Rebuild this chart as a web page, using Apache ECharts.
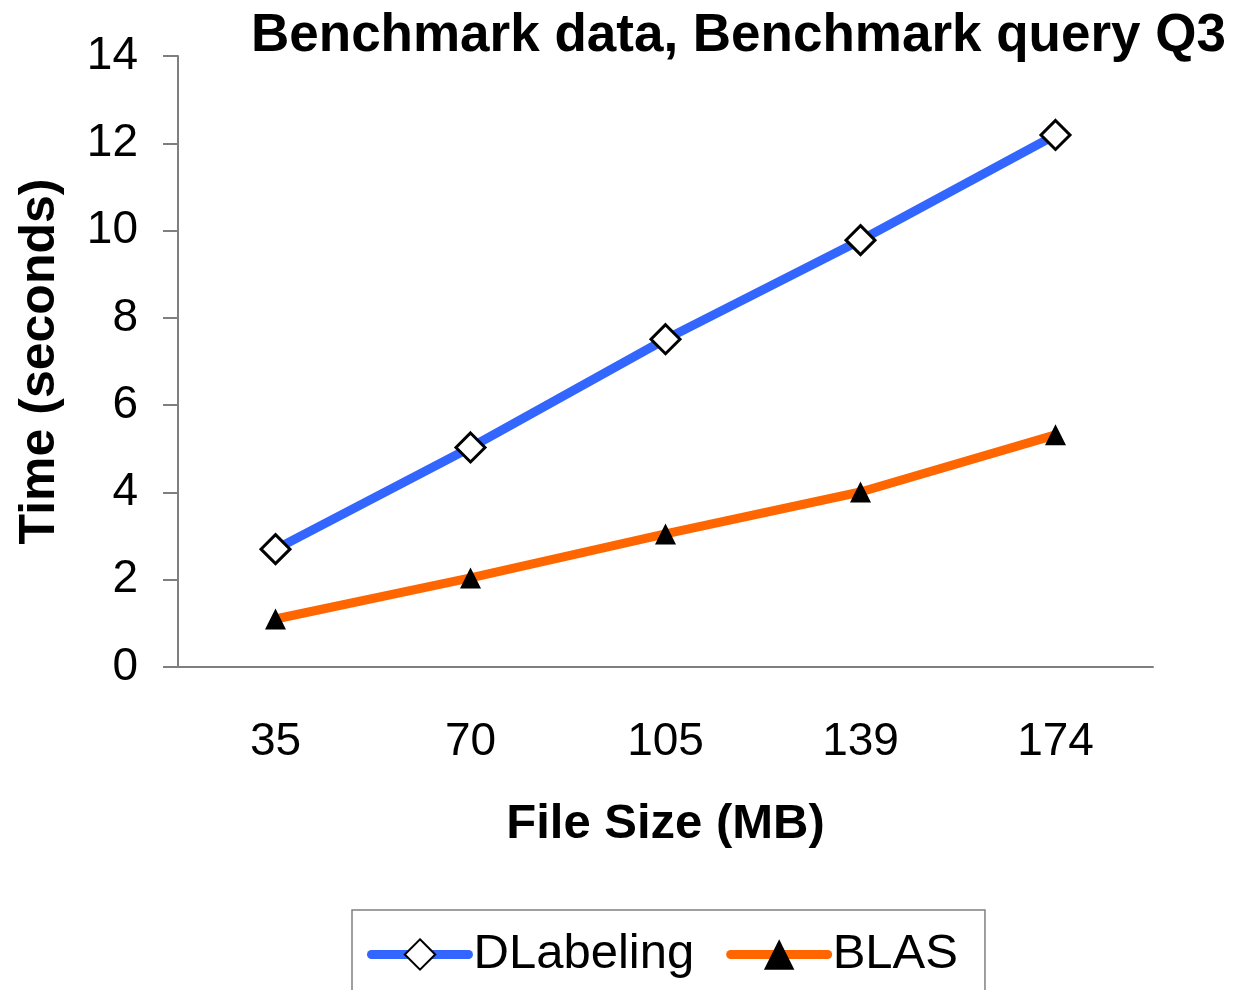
<!DOCTYPE html>
<html>
<head>
<meta charset="utf-8">
<title>Benchmark query Q3</title>
<script src="https://cdn.jsdelivr.net/npm/echarts@6/dist/echarts.min.js"></script>
<style>
  html, body { margin: 0; padding: 0; background: #fff; }
  #chart { width: 1234px; height: 990px; }
</style>
</head>
<body>
<div id="chart"></div>
<script>
// file sizes (MB) on the x axis
const fileSizes = ["35", "70", "105", "139", "174"];
// query times in seconds
const dlabeling = [2.70, 5.03, 7.51, 9.78, 12.19];
const blas = [1.10, 2.04, 3.05, 4.01, 5.32];

const font = "Liberation Sans, Arial, sans-serif";

let myChart = echarts.init(document.getElementById("chart"));

let options = {
  backgroundColor: "#ffffff",
  animation: false,
  title: {
    text: "Benchmark data, Benchmark query Q3",
    left: 246,
    top: 5,
    textStyle: { fontFamily: font, fontSize: 53, fontWeight: "bold", color: "#000" },
  },
  grid: { left: 178, right: 81, top: 56, bottom: 323 },
  legend: {
    left: 352,
    top: 910,
    padding: [20, 27, 40, 15],
    itemGap: 32,
    itemWidth: 97,
    itemHeight: 38,
    borderColor: "#808080",
    borderWidth: 1.5,
    lineStyle: { width: 9, cap: "round" },
    textStyle: { fontFamily: font, fontSize: 49, color: "#000" },
    data: ["DLabeling", "BLAS"],
  },
  xAxis: [
    {
      type: "category",
      data: fileSizes,
      boundaryGap: true,
      name: "File Size (MB)",
      nameLocation: "middle",
      nameGap: 133,
      nameTextStyle: { fontFamily: font, fontSize: 49, fontWeight: "bold", color: "#000" },
      axisLine: { lineStyle: { color: "#7f7f7f", width: 2 } },
      axisTick: { length: 10, interval: 0, lineStyle: { color: "#7f7f7f", width: 2 } },
      axisLabel: { fontFamily: font, fontSize: 46, color: "#000", margin: 52 },
    },
    {
      // second axis only to draw the tick marks under each point
      type: "category",
      data: fileSizes,
      position: "bottom",
      axisLine: { show: false },
      axisTick: { alignWithLabel: true, length: 10, lineStyle: { color: "#7f7f7f", width: 2 } },
      axisLabel: { show: false },
    },
  ],
  yAxis: {
    type: "value",
    min: 0,
    max: 14,
    interval: 2,
    name: "Time (seconds)",
    nameLocation: "middle",
    nameGap: 113,
    nameTextStyle: { fontFamily: font, fontSize: 50, fontWeight: "bold", color: "#000" },
    splitLine: { show: false },
    axisLine: { show: true, lineStyle: { color: "#7f7f7f", width: 2 } },
    axisTick: { show: true, length: 15, lineStyle: { color: "#7f7f7f", width: 2 } },
    axisLabel: { fontFamily: font, fontSize: 46, color: "#000", margin: 40 },
  },
  series: [
    {
      name: "DLabeling",
      type: "line",
      data: dlabeling,
      symbol: "diamond",
      symbolSize: 29,
      lineStyle: { color: "#3366ff", width: 9 },
      itemStyle: { color: "#ffffff", borderColor: "#000000", borderWidth: 3 },
      z: 3,
    },
    {
      name: "BLAS",
      type: "line",
      data: blas,
      symbol: "triangle",
      symbolSize: 21,
      lineStyle: { color: "#ff6600", width: 9 },
      itemStyle: { color: "#000000", borderColor: "#000000", borderWidth: 0 },
      z: 3,
    },
  ],
};

myChart.setOption(options);
</script>
</body>
</html>
